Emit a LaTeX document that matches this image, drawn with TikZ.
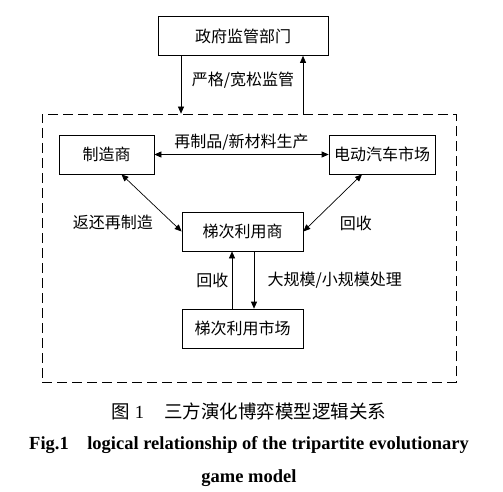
\documentclass[tikz,border=0pt]{standalone}
\usepackage{fontspec}
\setmainfont{Liberation Serif}
\newfontfamily\cjk{Noto Sans CJK SC}
\usetikzlibrary{arrows.meta}

\begin{document}
\begin{tikzpicture}[x=1pt,y=-1pt,>={Triangle[length=7pt,width=6pt]},line width=0.7pt,
    box/.style={draw,minimum height=39pt,inner sep=0pt,font=\cjk\fontsize{16}{18}\selectfont},
    lbl/.style={font=\cjk\fontsize{16}{18}\selectfont}]
    \useasboundingbox (0,0) rectangle (503,492);
    \node[box,minimum width=170pt] (gov) at (243,36) {政府监管部门};
    \node[box,minimum width=95pt] (mfr) at (106.5,154.5) {制造商};
    \node[box,minimum width=106pt] (ev) at (382,154.5) {电动汽车市场};
    \node[box,minimum width=121pt] (user) at (242.5,231.5) {梯次利用商};
    \node[box,minimum width=121pt] (mkt) at (242.5,328.5) {梯次利用市场};
    \node[draw,dash pattern=on 10pt off 5pt,minimum width=414pt,minimum height=268pt] (frame) at (249,248) {};
    
    \draw[->] ([xshift=-62pt]gov.south) -- ([xshift=-62pt]gov.south |- frame.north);
    \draw[<-] ([xshift=60pt]gov.south) -- ([xshift=60pt]gov.south |- frame.north);
    \node[lbl] (reg) at (243,80) {严格/宽松监管};
    \draw[<->] (mfr) -- node[lbl,above=0pt] {再制品/新材料生产} (ev);
    \draw[<->] ([xshift=15pt]mfr.south) -- node[lbl,pos=0.85,left=16pt] {返还再制造} (user.west);
    \draw[<->] ([xshift=-20pt]ev.south) -- node[lbl,pos=0.85,right=24pt] {回收} (user.east);
    \draw[->] ([xshift=-10.5pt]mkt.north) -- node[lbl,left=0pt] {回收} ([xshift=-10.5pt]user.south);
    \draw[->] ([xshift=11.5pt]user.south) -- node[lbl,right=10pt] {大规模/小规模处理} ([xshift=11.5pt]mkt.north);
    
    \node[font=\fontsize{18.5}{20}\selectfont] (cap) at (249,411) {{\cjk 图}~1\hspace{1.1em}{\cjk 三方演化博弈模型逻辑关系}};
    \node[font=\fontsize{18.5}{20}\bfseries] (capen1) at (249,445) {Fig.1\hspace{1em}logical relationship of the tripartite evolutionary};
    \node[font=\fontsize{18.5}{20}\bfseries] (capen2) at (249,478) {game model};
\end{tikzpicture}
\end{document}
